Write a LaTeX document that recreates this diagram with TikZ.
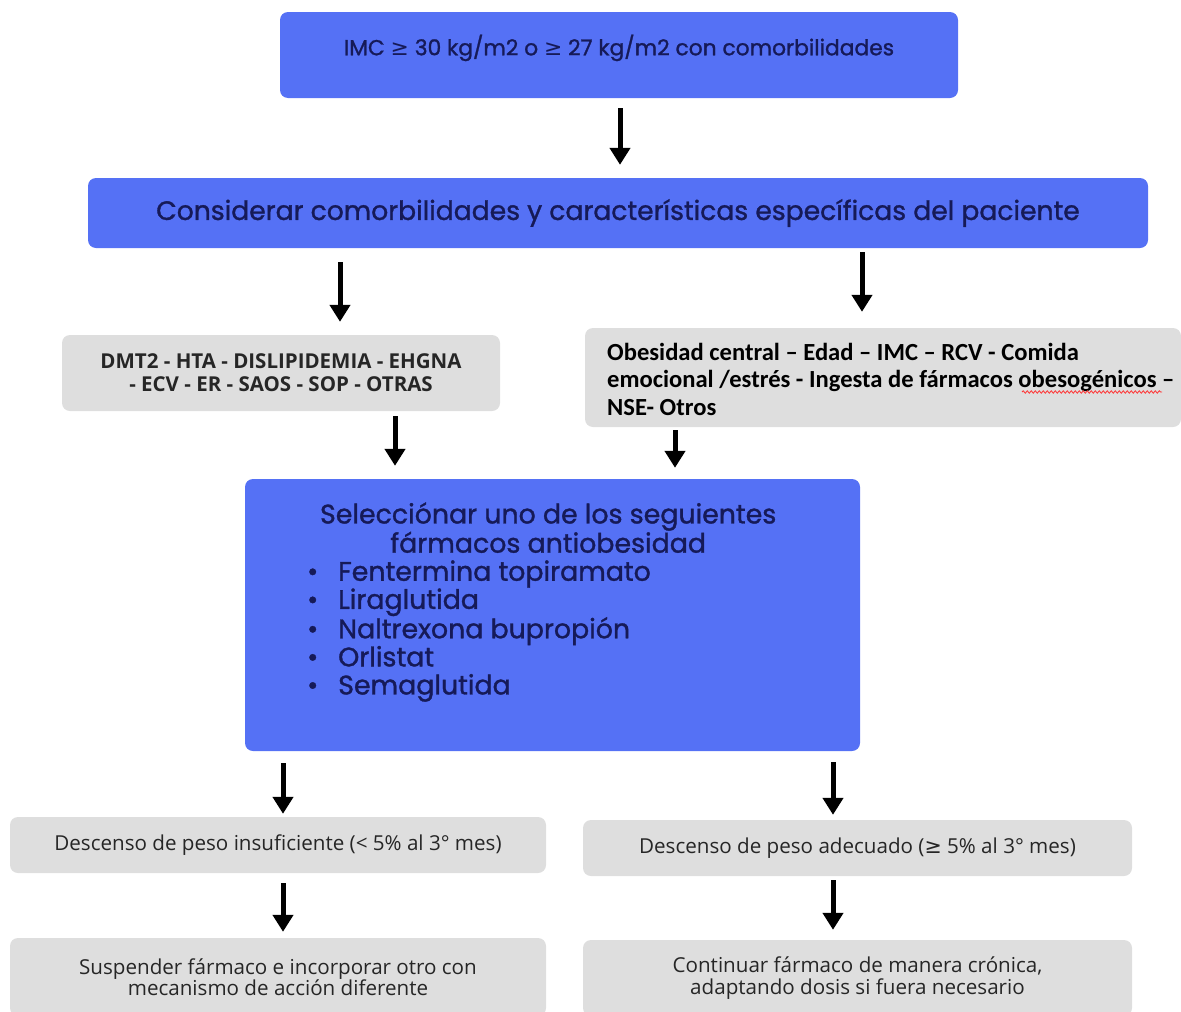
\documentclass[tikz,border=0pt]{standalone}
\usepackage{fontspec}
\setmainfont{Carlito}
\newfontfamily\popp[FakeBold=1.2]{Poppins}
\newfontfamily\opsans{Open Sans}
\newfontfamily\simb{DejaVu Sans}
\usetikzlibrary{arrows.meta,positioning,decorations.pathmorphing}
\usepackage{xcolor}

\definecolor{azul}{RGB}{85,113,245}
\definecolor{gris}{RGB}{222,222,222}
\definecolor{tinta}{RGB}{22,26,88}
\newcommand{\mayig}{{\simb\char"2265}}
\newcommand{\titfarm}[1]{\makebox[482pt][c]{#1}}

\begin{document}
\begin{tikzpicture}[x=1pt,y=-1pt,>=Triangle,
  cajaazul/.style={fill=azul, rounded corners=8pt, text=tinta, align=center, inner sep=0pt},
  cajagris/.style={fill=gris, rounded corners=8pt, text=black!85, align=center, inner sep=0pt,
                   font=\opsans\fontsize{20.6}{21.5}\selectfont},
  flecha/.style={line width=5pt, -{Triangle[length=17pt,width=20pt]}}]
  \useasboundingbox (0,0) rectangle (1181,1012);

  % Criterio inicial
  \node[cajaazul, minimum width=678pt, minimum height=86pt, text depth=20pt,
        font=\popp\fontsize{21.8}{25}\selectfont] (imc) at (619,55)
        {IMC \mayig{} 30 kg/m2 o \mayig{} 27 kg/m2 con comorbilidades};
  \node[cajaazul, minimum width=1060pt, minimum height=70pt,
        font=\popp\fontsize{26.6}{30}\selectfont] (cons) at (618,213)
        {Considerar comorbilidades y características específicas del paciente};

  % Comorbilidades / caracteristicas
  \node[cajagris, minimum width=438pt, minimum height=76pt,
        font=\opsans\fontsize{20.5}{23}\selectfont\bfseries] (comL) at (281,373)
        {DMT2 - HTA - DISLIPIDEMIA - EHGNA\\- ECV - ER - SAOS - SOP - OTRAS};
  \node[cajagris, minimum width=596pt, minimum height=99pt] (comR) at (883,377.5) {};
  \node[align=left, anchor=west, inner sep=0pt, font=\fontsize{24.6}{27.5}\selectfont\bfseries]
        (comRtxt) at (607,379)
        {Obesidad central -- Edad -- IMC -- RCV - Comida\\
         emocional /estrés - Ingesta de fármacos obesogénicos --\\
         NSE- Otros};
  % subrayado del corrector
  \draw[red!80!white, line width=0.8pt, decorate,
        decoration={snake, amplitude=1.2pt, segment length=4pt}] (1022,392) -- (1162,392);

  % Farmacos
  \node[cajaazul, minimum width=615pt, minimum height=272pt] (farm) at (552.5,615) {};
  \node[align=left, anchor=west, inner sep=0pt, text=tinta,
        font=\popp\fontsize{26.8}{28.1}\selectfont] (farmtxt) at (307,602)
        {\titfarm{Selecciónar uno de los seguientes}\\
         \titfarm{fármacos antiobesidad}\\
         •\hspace{20pt}Fentermina topiramato\\
         •\hspace{20pt}Liraglutida\\
         •\hspace{20pt}Naltrexona bupropión\\
         •\hspace{20pt}Orlistat\\
         •\hspace{20pt}Semaglutida};

  % Respuesta al 3er mes
  \node[cajagris, minimum width=536pt, minimum height=56pt] (insuf) at (278,845)
        {Descenso de peso insuficiente (< 5\% al 3° mes)};
  \node[cajagris, minimum width=549pt, minimum height=56pt] (adec) at (857.5,848)
        {Descenso de peso adecuado ({\mayig} 5\% al 3° mes)};
  \node[cajagris, minimum width=536pt, minimum height=78pt] (susp) at (278,977)
        {Suspender fármaco e incorporar otro con\\mecanismo de acción diferente};
  \node[cajagris, minimum width=549pt, minimum height=76pt] (cont) at (857.5,978)
        {Continuar fármaco de manera crónica,\\adaptando dosis si fuera necesario};

  % Flechas
  \coordinate (x1) at (620,0);
  \coordinate (x2) at (340,0);
  \coordinate (x3) at (862,0);
  \coordinate (x4) at (395,0);
  \coordinate (x5) at (675,0);
  \coordinate (x6) at (283,0);
  \coordinate (x7) at (833,0);
  \draw[flecha, shorten <=10pt, shorten >=13pt] (imc.south -| x1) -- (cons.north -| x1);
  \draw[flecha, shorten <=14pt, shorten >=13pt] (cons.south -| x2) -- (comL.north -| x2);
  \draw[flecha, shorten <=4pt, shorten >=16pt] (cons.south -| x3) -- (comR.north -| x3);
  \draw[flecha, shorten <=5pt, shorten >=13pt] (comL.south -| x4) -- (farm.north -| x4);
  \draw[flecha, shorten <=3pt, shorten >=11pt] (comR.south -| x5) -- (farm.north -| x5);
  \draw[flecha, shorten <=12pt, shorten >=3pt] (farm.south -| x6) -- (insuf.north -| x6);
  \draw[flecha, shorten <=11pt, shorten >=5pt] (farm.south -| x7) -- (adec.north -| x7);
  \draw[flecha, shorten <=10pt, shorten >=6pt] (insuf.south -| x6) -- (susp.north -| x6);
  \draw[flecha, shorten <=4pt, shorten >=10pt] (adec.south -| x7) -- (cont.north -| x7);
\end{tikzpicture}
\end{document}
